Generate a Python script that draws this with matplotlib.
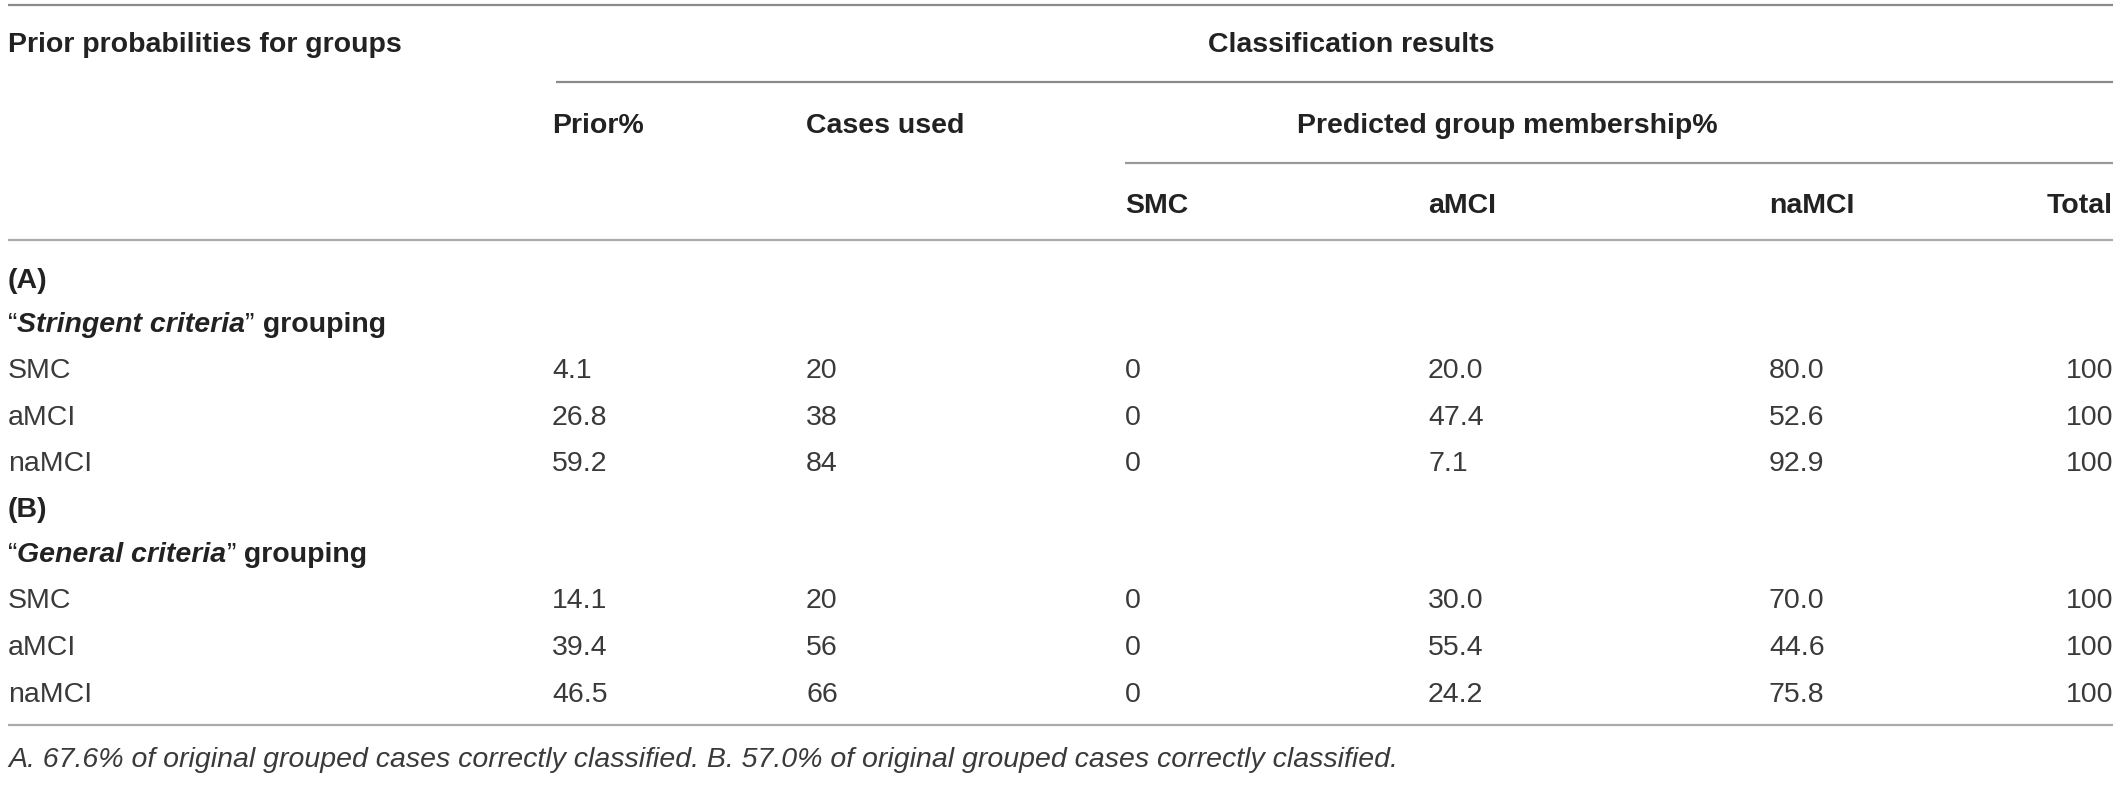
import matplotlib
matplotlib.use("Agg")
import matplotlib.pyplot as plt

# ---------------- data ----------------
groups = ["SMC", "aMCI", "naMCI"]
col_headers = ["SMC", "aMCI", "naMCI", "Total"]

A_prior = [4.1, 26.8, 59.2]
A_cases = [20, 38, 84]
A_smc = [0, 0, 0]
A_amci = [20.0, 47.4, 7.1]
A_namci = [80.0, 52.6, 92.9]
A_total = [100, 100, 100]

B_prior = [14.1, 39.4, 46.5]
B_cases = [20, 56, 66]
B_smc = [0, 0, 0]
B_amci = [30.0, 55.4, 24.2]
B_namci = [70.0, 44.6, 75.8]
B_total = [100, 100, 100]

footnote = ("A. 67.6% of original grouped cases correctly classified. "
            "B. 57.0% of original grouped cases correctly classified.")

# ---------------- layout ----------------
W, H = 2120, 786
fig = plt.figure(figsize=(W / 100, H / 100), dpi=100)
ax = fig.add_axes([0, 0, 1, 1])
ax.set_xlim(0, W)
ax.set_ylim(H, 0)
ax.axis("off")

FONT = "Liberation Sans"
FS = 20.5
HEAD_C = "#222222"
DATA_C = "#3a3a3a"
LINE_C = "#9a9a9a"

renderer = fig.canvas.get_renderer()


def txt(x, y, s, weight="normal", style="normal", ha="left", color=HEAD_C, fs=FS):
    return ax.text(x, y, s, ha=ha, va="baseline", fontsize=fs, fontweight=weight,
                   fontstyle=style, family=FONT, color=color)


def chain(x, y, parts, color=HEAD_C):
    for s, w, st in parts:
        t = txt(x, y, s, w, st, color=color)
        x += t.get_window_extent(renderer).width


def hline(y, x0, x1, color=LINE_C, lw=1.6):
    ax.plot([x0, x1], [y, y], color=color, lw=lw, solid_capstyle="butt")


XL, XR = 8, 2113
X_PRIOR, X_CASES = 552, 806
X_SMC, X_AMCI, X_NAMCI = 1125, 1428, 1769

# rules
hline(5, XL, XR, color="#8a8a8a")
hline(82, 556, XR, color="#8a8a8a")
hline(163, X_SMC, XR)
hline(240, XL, XR, color="#aaaaaa")
hline(725, XL, XR, color="#aaaaaa")

# headers
txt(XL, 52, "Prior probabilities for groups", weight="bold")
txt(1208, 52, "Classification results", weight="bold")
txt(X_PRIOR, 133, "Prior%", weight="bold")
txt(X_CASES, 133, "Cases used", weight="bold")
txt(1297, 133, "Predicted group membership%", weight="bold")
for x, h in zip([X_SMC, X_AMCI, X_NAMCI], col_headers[:3]):
    txt(x, 213, h, weight="bold")
txt(XR, 213, col_headers[3], weight="bold", ha="right")


def block(y_sec, y_grp, y_rows, letter, crit, prior, cases, smc, amci, namci, total):
    txt(XL, y_sec, letter, weight="bold")
    chain(XL, y_grp, [("\u201c", "normal", "normal"),
                      (crit, "bold", "italic"),
                      ("\u201d", "normal", "normal"),
                      (" grouping", "bold", "normal")])
    for i, g in enumerate(groups):
        y = y_rows[i]
        txt(XL, y, g, color=DATA_C)
        txt(X_PRIOR, y, f"{prior[i]:.1f}", color=DATA_C)
        txt(X_CASES, y, f"{cases[i]:d}", color=DATA_C)
        txt(X_SMC, y, f"{smc[i]:d}", color=DATA_C)
        txt(X_AMCI, y, f"{amci[i]:.1f}", color=DATA_C)
        txt(X_NAMCI, y, f"{namci[i]:.1f}", color=DATA_C)
        txt(XR, y, f"{total[i]:d}", color=DATA_C, ha="right")


block(288, 332, [378, 425, 471], "(A)", "Stringent criteria",
      A_prior, A_cases, A_smc, A_amci, A_namci, A_total)
block(517, 562, [608, 655, 702], "(B)", "General criteria",
      B_prior, B_cases, B_smc, B_amci, B_namci, B_total)

txt(XL, 767, footnote, style="italic", color=DATA_C)

fig.savefig("out.png", dpi=100, facecolor="white")
